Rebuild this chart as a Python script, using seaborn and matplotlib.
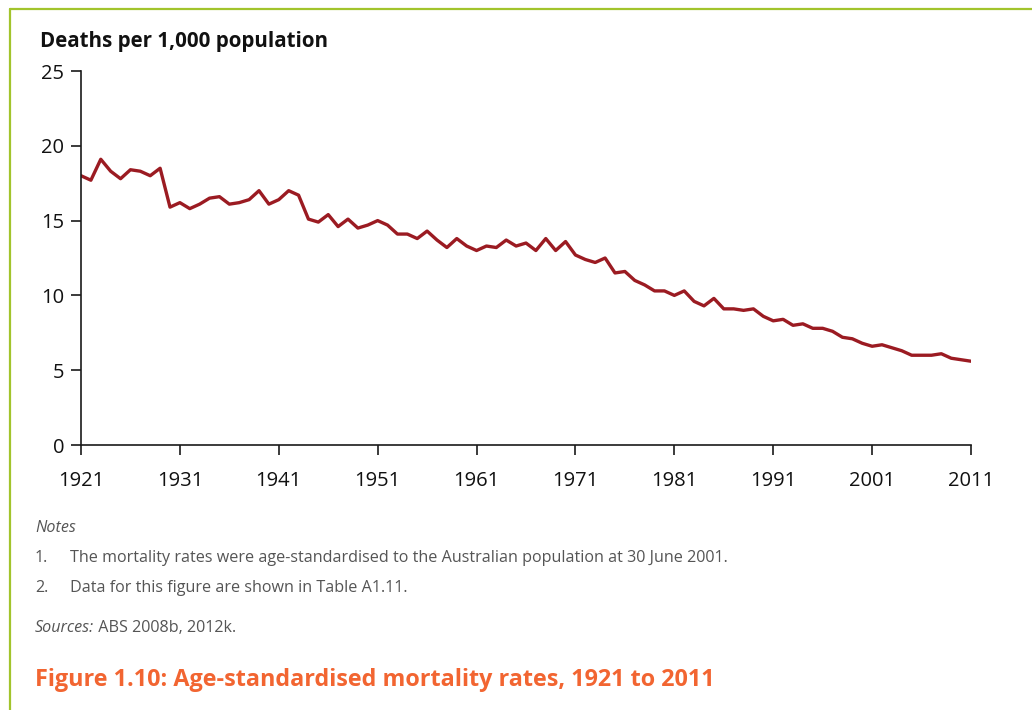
import matplotlib
matplotlib.use("Agg")
import matplotlib.pyplot as plt
from matplotlib.lines import Line2D
import seaborn as sns
import pandas as pd

years = list(range(1921, 2012))
rates = [
    18.0, 17.7, 19.1, 18.3, 17.8, 18.4, 18.3, 18.0, 18.5, 15.9,   # 1921-1930
    16.2, 15.8, 16.1, 16.5, 16.6, 16.1, 16.2, 16.4, 17.0, 16.1,   # 1931-1940
    16.4, 17.0, 16.7, 15.1, 14.9, 15.4, 14.6, 15.1, 14.5, 14.7,   # 1941-1950
    15.0, 14.7, 14.1, 14.1, 13.8, 14.3, 13.7, 13.2, 13.8, 13.3,   # 1951-1960
    13.0, 13.3, 13.2, 13.7, 13.3, 13.5, 13.0, 13.8, 13.0, 13.6,   # 1961-1970
    12.7, 12.4, 12.2, 12.5, 11.5, 11.6, 11.0, 10.7, 10.3, 10.3,   # 1971-1980
    10.0, 10.3, 9.6, 9.3, 9.8, 9.1, 9.1, 9.0, 9.1, 8.6,           # 1981-1990
    8.3, 8.4, 8.0, 8.1, 7.8, 7.8, 7.6, 7.2, 7.1, 6.8,             # 1991-2000
    6.6, 6.7, 6.5, 6.3, 6.0, 6.0, 6.0, 6.1, 5.8, 5.7,             # 2001-2010
    5.6,                                                          # 2011
]
x_ticks = [1921, 1931, 1941, 1951, 1961, 1971, 1981, 1991, 2001, 2011]
y_ticks = [0, 5, 10, 15, 20, 25]

y_title = "Deaths per 1,000 population"
notes_head = "Notes"
notes = ["The mortality rates were age-standardised to the Australian population at 30 June 2001.",
         "Data for this figure are shown in Table A1.11."]
sources_label = "Sources:"
sources_text = " ABS 2008b, 2012k."
fig_title = "Figure 1.10: Age-standardised mortality rates, 1921 to 2011"

df = pd.DataFrame({"year": years, "rate": rates})

sns.set_style("ticks")
plt.rcParams["font.family"] = ["Open Sans", "DejaVu Sans"]

W, H = 1032, 710
fig = plt.figure(figsize=(W / 100, H / 100), dpi=100)
ax = fig.add_axes([81 / W, 1 - 445 / H, (971 - 81) / W, (445 - 71) / H])

sns.lineplot(data=df, x="year", y="rate", ax=ax, color="#9b1b22", linewidth=2.4)

ax.set_xlim(1921, 2011)
ax.set_ylim(0, 25)
ax.set_xticks(x_ticks)
ax.set_yticks(y_ticks)
ax.set_xlabel("")
ax.set_ylabel("")
for s in ["top", "right"]:
    ax.spines[s].set_visible(False)
for s in ["left", "bottom"]:
    ax.spines[s].set_linewidth(1.2)
    ax.spines[s].set_color("#1a1a1a")
ax.tick_params(axis="both", length=7, width=1.2, color="#1a1a1a", labelsize=14.5, labelcolor="#111111")
ax.tick_params(axis="x", pad=11.5)
ax.tick_params(axis="y", pad=5)

# axis title
fig.text(40 / W, 1 - 42 / H, y_title, fontsize=14.8, fontweight="bold", color="#111111", va="center", ha="left")

# notes
grey = "#555555"
fs = 11.6
fig.text(35 / W, 1 - 528 / H, notes_head, fontsize=fs, style="italic", color=grey, va="center")
for i, n in enumerate(notes):
    yy = 1 - (558 + 30 * i) / H
    fig.text(35 / W, yy, f"{i + 1}.", fontsize=fs, color=grey, va="center")
    fig.text(70 / W, yy, n, fontsize=fs, color=grey, va="center")
t = fig.text(35 / W, 1 - 628 / H, sources_label, fontsize=fs, style="italic", color=grey, va="center")
fig.canvas.draw()
bb = t.get_window_extent()
fig.text(bb.x1 / W, 1 - 628 / H, sources_text, fontsize=fs, color=grey, va="center")

fig.text(35 / W, 1 - 680 / H, fig_title, fontsize=16.8, fontweight="bold", color="#f26531", va="center")

# green frame
green = "#a2c42c"
fig.add_artist(Line2D([9.5 / W, 1.0], [1 - 8.5 / H, 1 - 8.5 / H], transform=fig.transFigure, color=green, lw=1.6))
fig.add_artist(Line2D([9.5 / W, 9.5 / W], [0, 1 - 8.5 / H], transform=fig.transFigure, color=green, lw=1.6))

fig.savefig("out.png", dpi=100)
